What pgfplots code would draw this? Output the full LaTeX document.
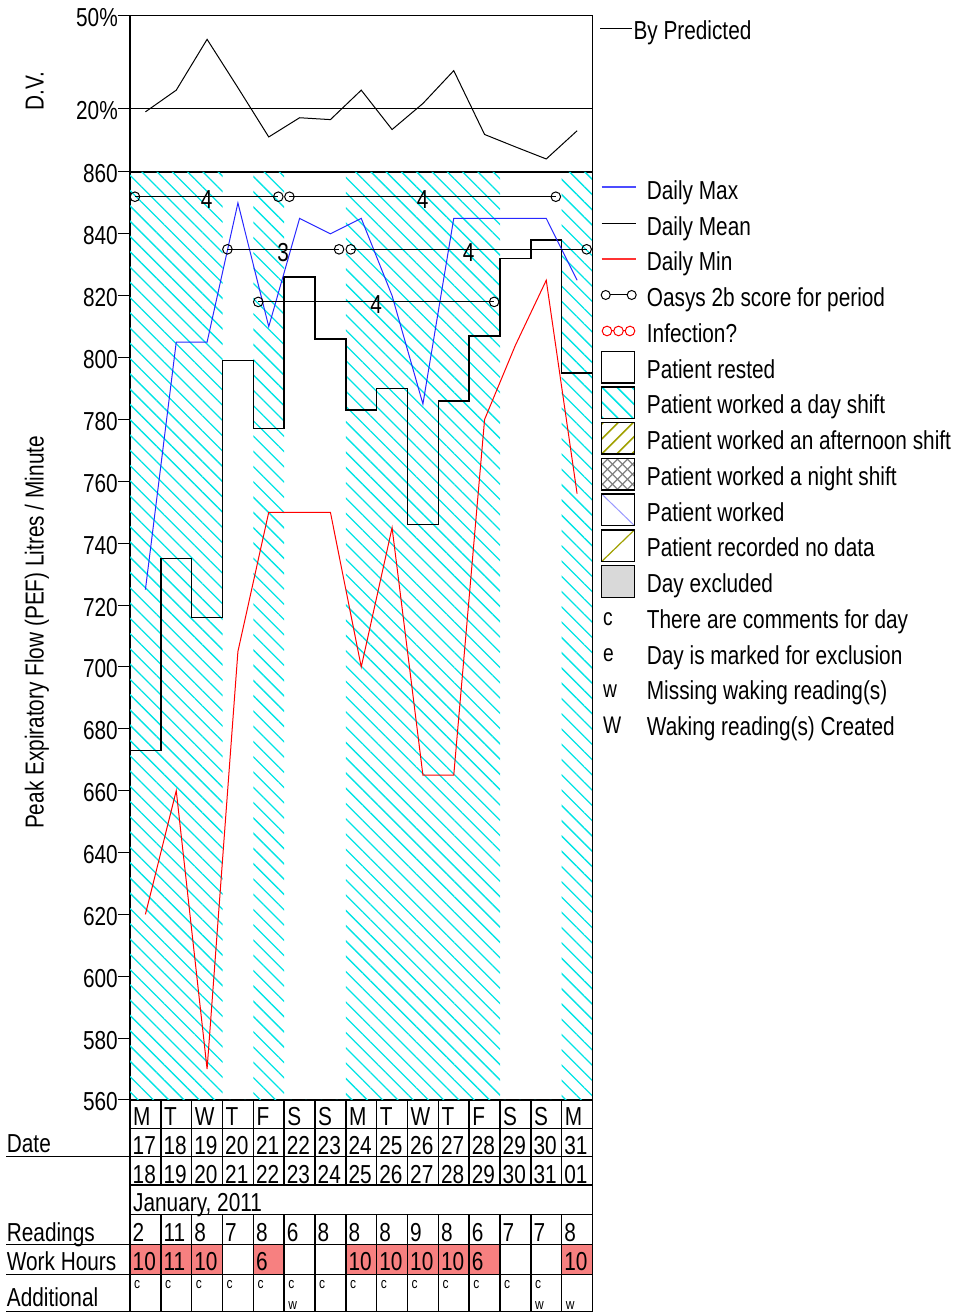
\documentclass[border=0pt]{standalone}
\usepackage{fontspec}
\setmainfont{Liberation Sans}[FakeStretch=0.8]
\usepackage{pgfplots}
\pgfplotsset{compat=1.18}
\usetikzlibrary{patterns.meta}
\definecolor{hatch}{RGB}{0,228,228}
\definecolor{wk}{RGB}{247,128,128}
\definecolor{olv}{RGB}{160,160,0}
\definecolor{maxblue}{RGB}{40,40,255}
\newcommand\fs{\fontsize{26}{30}\selectfont}
\newcommand\fsm{\fontsize{24}{26}\selectfont}
\newcommand\fst{\fontsize{15}{16}\selectfont}

\begin{document}
\begin{tikzpicture}[x=1pt,y=1pt]
\useasboundingbox (0,0) rectangle (959,1313);

% ---- top panel: D.V.
\begin{axis}[at={(130pt,1141pt)}, anchor=south west, scale only axis,
  width=462.5pt, height=156.5pt,
  xmin=0, xmax=15, ymin=-0.5, ymax=50,
  xtick=\empty, ytick={20,50}, yticklabels={20\%,50\%}, ytick pos=left,
  ymajorgrids, grid style={black, line width=1pt},
  tick align=outside, major tick length=12pt,
  ytick style={black, line width=1pt},
  axis line style={black, line width=1.2pt},
  yticklabel style={font=\fs, inner sep=0pt, yshift=-2pt}]
\addplot[black, line width=1pt] coordinates {
  (0.5,18.9) (1.5,25.9) (2.5,42.3) (3.5,26.7) (4.5,10.8) (5.5,17.0) (6.5,16.4)
  (7.5,25.9) (8.5,13.2) (9.5,21.6) (10.5,32.2) (11.5,11.6) (12.5,7.6) (13.5,3.7) (14.5,12.8)};
\end{axis}

% ---- main panel: PEF
\begin{axis}[at={(130pt,213pt)}, anchor=south west, scale only axis,
  width=462.5pt, height=928pt,
  xmin=0, xmax=15, ymin=560, ymax=860,
  xtick=\empty, ytick pos=left,
  ytick={560,580,...,860},
  yticklabels={560,580,600,620,640,660,680,700,720,740,760,780,800,820,840,860},
  tick align=outside, major tick length=12pt,
  ytick style={black, line width=1pt},
  axis line style={black, line width=1.2pt},
  yticklabel style={font=\fs, inner sep=0pt, yshift=-2pt}]
% day shifts
\addplot[ybar interval, draw=none,
  pattern={Lines[angle=-45,distance=10.8pt,line width=1.3pt]}, pattern color=hatch]
  coordinates {(0,860)(1,860)(2,860)(3,560)(4,860)(5,560)(6,560)(7,860)(8,860)
  (9,860)(10,860)(11,860)(12,560)(13,560)(14,860)(15,860)};
% daily mean
\addplot[const plot, black, line width=1.5pt] coordinates {
  (0,673)(1,735)(2,716)(3,799)(4,777)(5,826)(6,806)(7,783)(8,790)(9,746)
  (10,786)(11,807)(12,832)(13,838)(14,795)(15,795)};
% daily max
\addplot[maxblue, line width=1pt] coordinates {
  (0.5,725)(1.5,805)(2.5,805)(3.5,850)(4.5,810)(5.5,845)(6.5,840)(7.5,845)
  (8.5,820)(9.5,785)(10.5,845)(11.5,845)(12.5,845)(13.5,845)(14.5,825)};
% daily min
\addplot[red, line width=1pt] coordinates {
  (0.5,620)(1.5,660)(2.5,570)(3.5,705)(4.5,750)(5.5,750)(6.5,750)(7.5,700)
  (8.5,745)(9.5,665)(10.5,665)(11.5,780)(12.5,804)(13.5,825)(14.5,756)};
% oasys scores
\pgfplotsset{oas/.style={black, line width=1pt, mark=o, mark size=4.8pt,
  mark options={fill=white, line width=1pt}}}
\addplot[oas] coordinates {(0.16,852)(4.81,852)} node[pos=0.5, font=\fs, yshift=-3pt] {4};
\addplot[oas] coordinates {(5.17,852)(13.81,852)} node[pos=0.5, font=\fs, yshift=-3pt] {4};
\addplot[oas] coordinates {(3.16,835)(6.78,835)} node[pos=0.5, font=\fs, yshift=-3pt] {3};
\addplot[oas] coordinates {(7.16,835)(14.81,835)} node[pos=0.5, font=\fs, yshift=-3pt] {4};
\addplot[oas] coordinates {(4.16,818)(11.81,818)} node[pos=0.5, font=\fs, yshift=-3pt] {4};
\end{axis}

% axis titles
\node[rotate=90, anchor=base, font=\fs, inner sep=0] at (43.5,680.5) {Peak Expiratory Flow (PEF) Litres / Minute};
\node[rotate=90, anchor=base, font=\fs, inner sep=0] at (43.5,1222) {D.V.};

% ---- legend and table, in pixel coordinates (y downwards)
\begin{scope}[shift={(0,1313)}, yscale=-1]
\draw[black, line width=1pt] (600,28.3) -- (632,28.3);
\node[anchor=base west, inner sep=0, font=\fs] at (633.3,39.5) {By Predicted};

\draw[blue!70!white, line width=2pt] (601.7,187.5) -- (636,187.5);
\draw[black, line width=1.3pt] (601.7,223.3) -- (636,223.3);
\draw[red!80!white, line width=2pt] (601.7,259) -- (636,259);
\draw[black, line width=1pt] (605.7,295) -- (631.7,295);
\draw[black, line width=1pt, fill=white] (605.7,295) circle (4.5) (631.7,295) circle (4.5);
\draw[red, line width=1pt] (607,331) -- (630,331);
\draw[red, line width=1pt, fill=white] (607,331) circle (4.8) (618.5,331) circle (4.8) (630,331) circle (4.8);

% boxes
\draw[line width=1.5pt] (601.7,351.5) rectangle (634.3,383);
\begin{scope}
\clip (601.7,387) rectangle (634.3,418.5);
\foreach \k in {-30,-15,...,30} \draw[hatch, line width=1.5pt] (601.7+\k,387) -- (633.2+\k,418.5);
\end{scope}
\draw[line width=1.5pt] (601.7,387) rectangle (634.3,418.5);
\begin{scope}
\clip (601.7,422.5) rectangle (634.3,454);
\foreach \k in {-30,-15,...,30} \draw[olv, line width=1.5pt] (601.7+\k,454) -- (633.2+\k,422.5);
\end{scope}
\draw[line width=1.5pt] (601.7,422.5) rectangle (634.3,454);
\begin{scope}
\clip (601.7,458.5) rectangle (634.3,490);
\foreach \k in {-35,-25,...,35} {
  \draw[gray, line width=1.2pt] (601.7+\k,458.5) -- (633.2+\k,490);
  \draw[gray, line width=1.2pt] (601.7+\k,490) -- (633.2+\k,458.5);}
\end{scope}
\draw[line width=1.5pt] (601.7,458.5) rectangle (634.3,490);
\draw[blue!40, line width=1pt] (601.7,494) -- (634.3,525.5);
\draw[line width=1.5pt] (601.7,494) rectangle (634.3,525.5);
\draw[olv, line width=1.2pt] (601.7,561.5) -- (634.3,530);
\draw[line width=1.5pt] (601.7,530) rectangle (634.3,561.5);
\draw[line width=1.5pt, fill=black!15] (601.7,565.5) rectangle (634.3,597.5);

\foreach \t [count=\k from 0] in {Daily Max, Daily Mean, Daily Min, Oasys 2b score for period,
  Infection?, Patient rested, Patient worked a day shift, Patient worked an afternoon shift,
  Patient worked a night shift, Patient worked, Patient recorded no data, Day excluded,
  There are comments for day, Day is marked for exclusion, Missing waking reading(s),
  Waking reading(s) Created}
  \node[anchor=base west, inner sep=0, font=\fs] at (646.7,{199.3+35.75*\k}) {\t};
\foreach \t [count=\k from 12] in {c,e,w,W}
  \node[anchor=base west, inner sep=0, font=\fsm] at (603,{196.8+35.75*\k}) {\t};

% table
\foreach \i/\h in {0/10,1/11,2/10,4/6,7/10,8/10,9/10,10/10,11/6,14/10} {
  \fill[wk] ({130+30.833*\i},1244.5) rectangle ({130+30.833*(\i+1)},1274.5);
  \node[anchor=base west, inner sep=0, font=\fs] at ({130+30.833*\i+2.5},1271) {\h};}
\foreach \t [count=\i from 0] in {M,T,W,T,F,S,S,M,T,W,T,F,S,S,M}
  \node[anchor=base west, inner sep=0, font=\fs] at ({130+30.833*\i+3},1126) {\t};
\foreach \t [count=\i from 0] in {17,18,19,20,21,22,23,24,25,26,27,28,29,30,31}
  \node[anchor=base west, inner sep=0, font=\fs] at ({130+30.833*\i+2.5},1155) {\t};
\foreach \t [count=\i from 0] in {18,19,20,21,22,23,24,25,26,27,28,29,30,31,01}
  \node[anchor=base west, inner sep=0, font=\fs] at ({130+30.833*\i+2.5},1184) {\t};
\node[anchor=base west, inner sep=0, font=\fs] at (133,1212) {January, 2011};
\foreach \t [count=\i from 0] in {2,11,8,7,8,6,8,8,8,9,8,6,7,7,8}
  \node[anchor=base west, inner sep=0, font=\fs] at ({130+30.833*\i+2.5},1242) {\t};
\foreach \i in {0,...,13}
  \node[anchor=base west, inner sep=0, font=\fst] at ({130+30.833*\i+4},1289) {c};
\foreach \i in {5,13,14}
  \node[anchor=base west, inner sep=0, font=\fst] at ({130+30.833*\i+4},1309.5) {w};

\foreach \i in {0,...,15} {
  \draw[line width=1.5pt] ({130+30.833*\i},1100) -- ({130+30.833*\i},1185);
  \draw[line width=1.5pt] ({130+30.833*\i},1214.3) -- ({130+30.833*\i},1311.5);}
\draw[line width=1.5pt] (130,1185) -- (130,1214.3) (592.5,1185) -- (592.5,1214.3);
\foreach \y in {1128.3,1156.5,1185,1214.3,1244.5,1274.5,1311.5}
  \draw[line width=1.5pt] (130,\y) -- (592.5,\y);
\foreach \y in {1156.5,1244.5,1274.5,1311.5}
  \draw[line width=1.2pt] (6,\y) -- (130,\y);

\node[anchor=base west, inner sep=0, font=\fs] at (6.7,1153) {Date};
\node[anchor=base west, inner sep=0, font=\fs] at (6.7,1241.7) {Readings};
\node[anchor=base west, inner sep=0, font=\fs] at (6.7,1270.7) {Work Hours};
\node[anchor=base west, inner sep=0, font=\fs] at (6.7,1306.7) {Additional};
\end{scope}
\end{tikzpicture}
\end{document}
